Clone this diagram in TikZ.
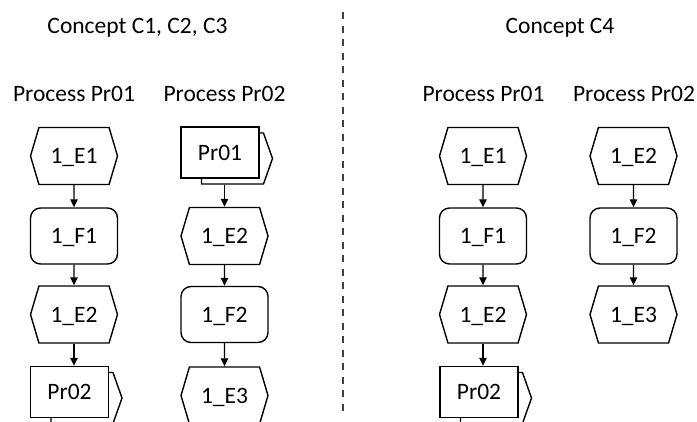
\documentclass[tikz,border=0pt]{standalone}
\usepackage{fontspec}
\setmainfont{Carlito}
\usetikzlibrary{shapes.symbols,arrows.meta}
\begin{document}
\begin{tikzpicture}[x=1pt,y=-1pt,
  every node/.style={font=\fontsize{23.5}{28}\selectfont, text=black},
  label/.style={anchor=base, inner sep=0pt},
  event/.style={draw, line width=1.4pt, shape=signal, signal to=west and east,
    signal pointer angle=147, minimum width=87pt, minimum height=57pt,
    inner sep=0pt, text height=15pt, text depth=0pt},
  func/.style={draw, line width=1.4pt, rectangle, rounded corners=10pt,
    minimum width=87pt, minimum height=56pt, inner sep=0pt,
    text height=15pt, text depth=0pt},
  ifront/.style={draw, fill=white, line width=1.4pt, rectangle,
    minimum width=78pt, minimum height=51pt, inner sep=0pt,
    text height=15pt, text depth=0pt},
  iback/.style={draw, line width=1.4pt, shape=signal, signal to=east,
    signal pointer angle=141, minimum width=71pt, minimum height=51pt,
    inner sep=0pt},
  flow/.style={line width=1.3pt, -{Triangle[length=8pt,width=7.5pt]}},
  divider/.style={line width=1.6pt, black!75, dash pattern=on 7pt off 6.5pt}
]
\useasboundingbox (0,0) rectangle (697,421);
\clip (0,0) rectangle (697,421);

% headings
\node[label] (t1) at (137.5,33) {Concept C1, C2, C3};
\node[label] (t2) at (560,33) {Concept C4};
\node[label] (h1) at (74,101) {Process Pr01};
\node[label] (h2) at (224.5,101) {Process Pr02};
\node[label] (h3) at (483.5,101) {Process Pr01};
\node[label] (h4) at (634,101) {Process Pr02};

% separator
\coordinate (sepA) at (343,12);
\coordinate (sepB) at (343,416);
\draw[divider] (sepA) -- (sepB);

% concept C1, C2, C3 -- process Pr01
\node[event] (a1) at (74,156) {1\_E1};
\node[func]  (a2) at (74,236) {1\_F1};
\node[event] (a3) at (74,314.5) {1\_E2};
\node[iback] (a4b) at (82,398) {};
\node[ifront] (a4) at (69.5,392) {Pr02};
\draw[flow] (a1) -- (a2);
\draw[flow] (a2) -- (a3);
\draw[flow] (a3.south) -- (a3.south |- a4.north);

% concept C1, C2, C3 -- process Pr02
\node[iback] (b1b) at (232.5,158.5) {};
\node[ifront] (b1) at (220,152.5) {Pr01};
\node[event] (b2) at (224.5,236) {1\_E2};
\node[func]  (b3) at (224.5,314.5) {1\_F2};
\node[event] (b4) at (224.5,395.5) {1\_E3};
\draw[flow] (b2.north |- b1b.south) -- (b2.north);
\draw[flow] (b2) -- (b3);
\draw[flow] (b3) -- (b4);

% concept C4 -- process Pr01
\node[event] (c1) at (483,156) {1\_E1};
\node[func]  (c2) at (483,236) {1\_F1};
\node[event] (c3) at (483,314.5) {1\_E2};
\node[iback] (c4b) at (491.5,398) {};
\node[ifront] (c4) at (479,392) {Pr02};
\draw[flow] (c1) -- (c2);
\draw[flow] (c2) -- (c3);
\draw[flow] (c3.south) -- (c3.south |- c4.north);

% concept C4 -- process Pr02
\node[event] (d1) at (633.5,156) {1\_E2};
\node[func]  (d2) at (633.5,236) {1\_F2};
\node[event] (d3) at (633.5,314.5) {1\_E3};
\draw[flow] (d1) -- (d2);
\draw[flow] (d2) -- (d3);
\end{tikzpicture}
\end{document}
